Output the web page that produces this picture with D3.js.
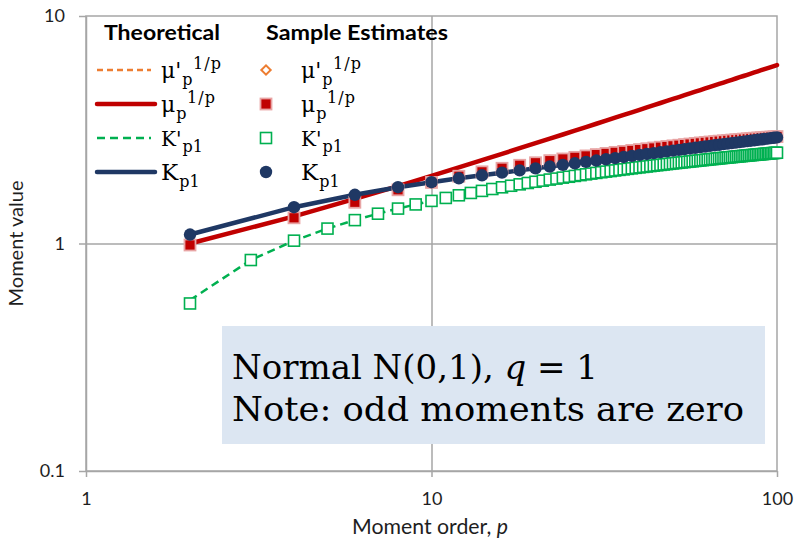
<!DOCTYPE html>
<html>
<head>
<meta charset="utf-8">
<script src="https://cdn.jsdelivr.net/npm/d3@7"></script>
<style>
  html, body { margin: 0; padding: 0; background: #ffffff; }
  svg { display: block; }
</style>
</head>
<body>
<svg id="chart" width="795" height="541"></svg>
<script>
// Moment orders: even orders only for the moments that vanish at odd orders
const evenOrders = [2,4,6,8,10,12,14,16,18,20,22,24,26,28,30,32,34,36,38,40,
  42,44,46,48,50,52,54,56,58,60,62,64,66,68,70,72,74,76,78,80,
  82,84,86,88,90,92,94,96,98,100];
const allOrders = [2,3,4,5,6,7,8,9,10,11,12,13,14,15,16,17,18,19,20,21,22,23,24,25,26,27,28,29,30,
  31,32,33,34,35,36,37,38,39,40,41,42,43,44,45,46,47,48,49,50,51,52,53,54,55,56,57,58,59,60,
  61,62,63,64,65,66,67,68,69,70,71,72,73,74,75,76,77,78,79,80,81,82,83,84,85,86,87,88,89,90,
  91,92,93,94,95,96,97,98,99,100];

// Theoretical central moment, mu_p^(1/p)
const muTheory = [1.000,1.316,1.570,1.789,1.984,2.161,2.325,2.478,2.623,2.759,
  2.890,3.014,3.134,3.249,3.360,3.468,3.573,3.674,3.773,3.869,
  3.963,4.055,4.145,4.233,4.319,4.403,4.486,4.567,4.647,4.725,
  4.803,4.879,4.953,5.027,5.100,5.172,5.242,5.312,5.381,5.449,
  5.516,5.582,5.648,5.712,5.776,5.840,5.902,5.964,6.026,6.086];

// Sample estimate of mu_p^(1/p)
const muSample = [0.985,1.297,1.518,1.722,1.855,1.975,2.065,2.141,2.207,2.264,
  2.313,2.353,2.391,2.426,2.459,2.488,2.515,2.540,2.564,2.587,
  2.609,2.630,2.650,2.669,2.687,2.704,2.721,2.737,2.753,2.768,
  2.782,2.794,2.806,2.818,2.828,2.839,2.849,2.859,2.868,2.877,
  2.886,2.895,2.903,2.910,2.918,2.925,2.932,2.938,2.945,2.952];

// Zero mean: raw moments equal the central ones
const rawMuTheory = muTheory;
const rawMuSample = muSample;

// Central K-moment K_p1 (theoretical and sample coincide)
const kTheory = [1.095,1.444,1.637,1.768,1.860,1.935,1.995,2.048,2.096,2.140,
  2.179,2.217,2.252,2.285,2.316,2.346,2.374,2.401,2.427,2.451,
  2.475,2.497,2.519,2.540,2.560,2.580,2.599,2.617,2.635,2.653,
  2.669,2.686,2.702,2.717,2.733,2.747,2.762,2.776,2.790,2.804,
  2.817,2.830,2.843,2.856,2.868,2.880,2.892,2.904,2.915,2.926];
const kSample = kTheory;

// Noncentral K-moment K'_p1 at every order
const kPrimeTheory = [0.564,0.846,1.029,1.163,1.267,1.352,1.424,1.485,1.539,1.586,
  1.629,1.668,1.703,1.736,1.766,1.794,1.820,1.845,1.868,1.889,
  1.910,1.929,1.948,1.965,1.982,1.998,2.014,2.029,2.043,2.057,
  2.070,2.082,2.095,2.107,2.118,2.129,2.140,2.151,2.161,2.171,
  2.180,2.190,2.199,2.208,2.216,2.225,2.233,2.241,2.249,2.257,
  2.264,2.271,2.279,2.286,2.292,2.299,2.306,2.313,2.319,2.325,
  2.332,2.338,2.344,2.350,2.355,2.361,2.367,2.372,2.378,2.383,
  2.388,2.393,2.398,2.403,2.408,2.413,2.418,2.422,2.427,2.431,
  2.436,2.440,2.445,2.449,2.453,2.457,2.461,2.465,2.469,2.473,
  2.477,2.481,2.485,2.489,2.493,2.496,2.500,2.504,2.507];
const kPrimeSample = [0.545].concat(kPrimeTheory.slice(1));

const yTicks = [0.1, 1, 10];
const yTickLabels = ["0.1", "1", "10"];
const xTicks = [1, 10, 100];
const xTickLabels = ["1", "10", "100"];

// ---- layout ----
const plot = { left: 86, right: 777, top: 16, bottom: 471 };
const svg = d3.select("#chart");
const gridColor = "#a6a6a6";
const textColor = "#1e1e1e";
const sansFont = "Lato, 'Open Sans', sans-serif";
const mathFont = "'DejaVu Serif', 'Liberation Serif', serif";

const x = d3.scaleLog().domain([1, 100]).range([plot.left, plot.right]);
const y = d3.scaleLog().domain([0.1, 10]).range([plot.bottom, plot.top]);

// gridlines
svg.append("g")
  .attr("transform", `translate(${plot.left},0)`)
  .call(d3.axisLeft(y).tickValues([1]).tickSize(-(plot.right - plot.left)).tickFormat(""))
  .call(g => g.select(".domain").remove())
  .call(g => g.selectAll("line").attr("stroke", gridColor).attr("stroke-width", 1.5));
svg.append("g")
  .attr("transform", `translate(0,${plot.bottom})`)
  .call(d3.axisBottom(x).tickValues([10]).tickSize(-(plot.bottom - plot.top)).tickFormat(""))
  .call(g => g.select(".domain").remove())
  .call(g => g.selectAll("line").attr("stroke", gridColor).attr("stroke-width", 1.5));

// plot frame
svg.append("rect")
  .attr("x", plot.left).attr("y", plot.top)
  .attr("width", plot.right - plot.left).attr("height", plot.bottom - plot.top)
  .attr("fill", "none").attr("stroke", gridColor).attr("stroke-width", 1.5);

// axes
svg.append("g")
  .attr("transform", `translate(${plot.left},0)`)
  .call(d3.axisLeft(y).tickValues(yTicks).tickFormat((d, i) => yTickLabels[i])
    .tickSizeInner(7).tickSizeOuter(0).tickPadding(14))
  .call(g => g.selectAll("path,line").attr("stroke", gridColor).attr("stroke-width", 1.5))
  .call(g => g.selectAll("text").attr("font-family", sansFont).attr("font-size", 18).attr("fill", textColor));
svg.append("g")
  .attr("transform", `translate(0,${plot.bottom})`)
  .call(d3.axisBottom(x).tickValues(xTicks).tickFormat((d, i) => xTickLabels[i])
    .tickSizeInner(6).tickSizeOuter(0).tickPadding(15))
  .call(g => g.selectAll("path,line").attr("stroke", gridColor).attr("stroke-width", 1.5))
  .call(g => g.selectAll("text").attr("font-family", sansFont).attr("font-size", 18).attr("fill", textColor));

// axis titles
const xTitle = svg.append("text")
  .attr("x", 352).attr("y", 534)
  .attr("font-family", sansFont).attr("font-size", 20.5).attr("fill", textColor)
  .attr("textLength", 156).attr("lengthAdjust", "spacingAndGlyphs");
xTitle.append("tspan").text("Moment order, ");
xTitle.append("tspan").attr("font-style", "italic").text("p");

svg.append("text")
  .attr("transform", `translate(23,${(plot.top + plot.bottom) / 2}) rotate(-90)`)
  .attr("text-anchor", "middle")
  .attr("font-family", sansFont).attr("font-size", 20).attr("fill", textColor)
  .text("Moment value");

// annotation box
svg.append("rect")
  .attr("x", 222).attr("y", 326).attr("width", 543).attr("height", 118)
  .attr("fill", "#dce6f2");
const note1 = svg.append("text")
  .attr("x", 232).attr("y", 379)
  .attr("font-family", mathFont).attr("font-size", 33).attr("fill", "#000")
  .attr("textLength", 366).attr("lengthAdjust", "spacingAndGlyphs");
note1.append("tspan").text("Normal N(0,1), ");
note1.append("tspan").attr("font-style", "italic").text("q");
note1.append("tspan").text(" = 1");
svg.append("text")
  .attr("x", 232).attr("y", 421)
  .attr("font-family", mathFont).attr("font-size", 33).attr("fill", "#000")
  .attr("textLength", 512).attr("lengthAdjust", "spacingAndGlyphs")
  .text("Note: odd moments are zero");

// ---- series ----
const pts = (ps, vs) => ps.map((p, i) => ({ p: p, v: vs[i] }));
const line = d3.line().x(d => x(d.p)).y(d => y(d.v));

const colors = {
  orange: "#ed7d31",
  red: "#c00000",
  green: "#00b050",
  navy: "#1f3864"
};

const lines = svg.append("g");
lines.append("path").datum(pts(evenOrders, rawMuTheory)).attr("d", line)
  .attr("fill", "none").attr("stroke", colors.orange).attr("stroke-width", 2.5)
  .attr("stroke-dasharray", "6,4");
lines.append("path").datum(pts(evenOrders, muTheory)).attr("d", line)
  .attr("fill", "none").attr("stroke", colors.red).attr("stroke-width", 4.5)
  .attr("stroke-linecap", "round");
lines.append("path").datum(pts(allOrders, kPrimeTheory)).attr("d", line)
  .attr("fill", "none").attr("stroke", colors.green).attr("stroke-width", 2.5)
  .attr("stroke-dasharray", "8,5");
lines.append("path").datum(pts(evenOrders, kTheory)).attr("d", line)
  .attr("fill", "none").attr("stroke", colors.navy).attr("stroke-width", 4.5)
  .attr("stroke-linecap", "round");

const marks = svg.append("g");
const diamond = d3.symbol().type(d3.symbolSquare).size(44);
marks.selectAll(".rawmu").data(pts(evenOrders, rawMuSample)).join("path")
  .attr("d", diamond)
  .attr("transform", d => `translate(${x(d.p)},${y(d.v)}) rotate(45)`)
  .attr("fill", "#ffffff").attr("stroke", colors.orange).attr("stroke-width", 2);
marks.selectAll(".mu").data(pts(evenOrders, muSample)).join("rect")
  .attr("x", d => x(d.p) - 5.5).attr("y", d => y(d.v) - 5.5)
  .attr("width", 11).attr("height", 11)
  .attr("fill", colors.red).attr("stroke", "#e8a4a4").attr("stroke-width", 1.8);
marks.selectAll(".kp").data(pts(allOrders, kPrimeSample)).join("rect")
  .attr("x", d => x(d.p) - 5.5).attr("y", d => y(d.v) - 5.5)
  .attr("width", 11).attr("height", 11)
  .attr("fill", "#ffffff").attr("stroke", colors.green).attr("stroke-width", 1.6);
marks.selectAll(".k").data(pts(evenOrders, kSample)).join("circle")
  .attr("cx", d => x(d.p)).attr("cy", d => y(d.v)).attr("r", 6.2)
  .attr("fill", colors.navy);

// ---- legend ----
const legend = svg.append("g");
legend.append("text").attr("x", 104).attr("y", 40)
  .attr("font-family", sansFont).attr("font-weight", "bold").attr("font-size", 21)
  .attr("textLength", 116).attr("lengthAdjust", "spacingAndGlyphs")
  .attr("fill", "#000").text("Theoretical");
legend.append("text").attr("x", 266).attr("y", 40)
  .attr("font-family", sansFont).attr("font-weight", "bold").attr("font-size", 21)
  .attr("textLength", 182).attr("lengthAdjust", "spacingAndGlyphs")
  .attr("fill", "#000").text("Sample Estimates");

// math-style label in one text element: base, subscript, then superscript
function mathLabel(x0, yb, base, sub, sup, size, small) {
  const t = legend.append("text")
    .attr("font-family", mathFont).attr("fill", "#000");
  const b = t.append("tspan").attr("x", x0).attr("y", yb).attr("font-size", size).text(base);
  let xr = x0 + b.node().getComputedTextLength() + 1;
  if (sub) {
    const s = t.append("tspan").attr("x", xr).attr("y", yb + size * 0.3)
      .attr("font-size", small).text(sub);
    xr += s.node().getComputedTextLength() + 0.5;
  }
  if (sup) {
    t.append("tspan").attr("x", xr).attr("y", yb - size * 0.42)
      .attr("font-size", small).attr("letter-spacing", 1).text(sup);
  }
}

const rows = [
  { y: 70, base: "\u03bc'", sub: "p", sup: "1/p", size: 22, small: 16 },
  { y: 104, base: "\u03bc", sub: "p", sup: "1/p", size: 22, small: 16 },
  { y: 138, base: "K'", sub: "p1", sup: null, size: 20, small: 16 },
  { y: 172, base: "K", sub: "p1", sup: null, size: 23, small: 16 }
];
rows.forEach(r => {
  mathLabel(161, r.y + 8, r.base, r.sub, r.sup, r.size, r.small);
  mathLabel(301, r.y + 8, r.base, r.sub, r.sup, r.size, r.small);
});

// legend line samples
legend.append("line").attr("x1", 97).attr("x2", 151).attr("y1", 70).attr("y2", 70)
  .attr("stroke", colors.orange).attr("stroke-width", 2.5).attr("stroke-dasharray", "6,4");
legend.append("line").attr("x1", 97).attr("x2", 155).attr("y1", 104).attr("y2", 104)
  .attr("stroke", colors.red).attr("stroke-width", 4.5).attr("stroke-linecap", "round");
legend.append("line").attr("x1", 97).attr("x2", 151).attr("y1", 138).attr("y2", 138)
  .attr("stroke", colors.green).attr("stroke-width", 2.5).attr("stroke-dasharray", "8,5");
legend.append("line").attr("x1", 97).attr("x2", 155).attr("y1", 172).attr("y2", 172)
  .attr("stroke", colors.navy).attr("stroke-width", 4.5).attr("stroke-linecap", "round");

// legend marker samples
const lx = 266;
legend.append("path").attr("d", diamond)
  .attr("transform", `translate(${lx},70) rotate(45)`)
  .attr("fill", "#ffffff").attr("stroke", colors.orange).attr("stroke-width", 2);
legend.append("rect").attr("x", lx - 5.5).attr("y", 104 - 5.5).attr("width", 11).attr("height", 11)
  .attr("fill", colors.red).attr("stroke", "#e8a4a4").attr("stroke-width", 1.8);
legend.append("rect").attr("x", lx - 5.5).attr("y", 138 - 5.5).attr("width", 11).attr("height", 11)
  .attr("fill", "#ffffff").attr("stroke", colors.green).attr("stroke-width", 1.6);
legend.append("circle").attr("cx", lx).attr("cy", 172).attr("r", 6.2).attr("fill", colors.navy);
</script>
</body>
</html>
